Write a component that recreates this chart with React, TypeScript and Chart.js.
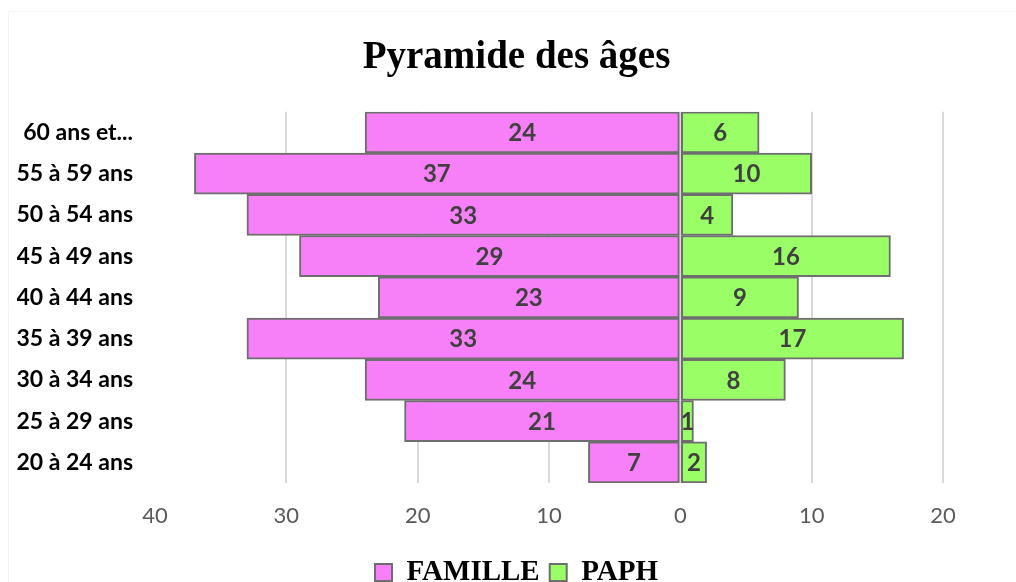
import React, { useEffect, useRef } from "react";
import { Chart, registerables } from "chart.js";

Chart.register(...registerables);

const categories = [
  "60 ans et...",
  "55 à 59 ans",
  "50 à 54 ans",
  "45 à 49 ans",
  "40 à 44 ans",
  "35 à 39 ans",
  "30 à 34 ans",
  "25 à 29 ans",
  "20 à 24 ans",
];
const familleValues = [24, 37, 33, 29, 23, 33, 24, 21, 7];
const paphValues = [6, 10, 4, 16, 9, 17, 8, 1, 2];
const xTickValues = [-40, -30, -20, -10, 0, 10, 20];

const valueLabelPlugin = {
  id: "valueLabels",
  afterDatasetsDraw(chart: any) {
    const ctx = chart.ctx;
    ctx.save();
    ctx.font = "bold 24px Lato";
    ctx.fillStyle = "#404040";
    ctx.textAlign = "center";
    ctx.textBaseline = "middle";
    chart.data.datasets.forEach((ds: any, di: number) => {
      const meta = chart.getDatasetMeta(di);
      meta.data.forEach((el: any, i: number) => {
        const v = Math.abs(ds.data[i]);
        const cx = (el.x + el.base) / 2;
        ctx.fillText(String(v), cx, el.y + 1);
      });
    });
    ctx.restore();
  },
};

const framePlugin = {
  id: "frame",
  beforeDraw(chart: any) {
    const ctx = chart.ctx;
    ctx.save();
    ctx.strokeStyle = "#F3F3F3";
    ctx.lineWidth = 1;
    ctx.beginPath();
    ctx.moveTo(8.5, chart.height);
    ctx.lineTo(8.5, 11.5);
    ctx.lineTo(chart.width, 11.5);
    ctx.stroke();
    ctx.restore();
  },
};

export default function App() {
  const ref = useRef<HTMLCanvasElement>(null);
  useEffect(() => {
    document.body.style.margin = "0";
    const chart = new Chart(ref.current!, {
      type: "bar",
      data: {
        labels: categories,
        datasets: [
          {
            label: "FAMILLE",
            data: familleValues.map((v) => -v),
            backgroundColor: "#F77FF7",
            borderColor: "#6E6E6E",
            borderWidth: 2,
            borderSkipped: false,
            categoryPercentage: 1,
            barPercentage: 1,
          },
          {
            label: "PAPH",
            data: paphValues,
            backgroundColor: "#9AFF66",
            borderColor: "#6E6E6E",
            borderWidth: 2,
            borderSkipped: false,
            categoryPercentage: 1,
            barPercentage: 1,
          },
        ],
      },
      options: {
        indexAxis: "y",
        animation: false,
        responsive: false,
        layout: { padding: { left: 17, right: 0, top: 0, bottom: 3 } },
        plugins: {
          title: {
            display: true,
            text: "Pyramide des âges",
            color: "#000000",
            font: { family: "Liberation Serif", size: 39, weight: "bold", lineHeight: 1.2 },
            padding: { top: 35, bottom: 30 },
          },
          legend: {
            position: "bottom",
            labels: {
              color: "#000000",
              font: { family: "Liberation Serif", size: 29, weight: "bold" },
              boxWidth: 17,
              boxHeight: 17,
              padding: 10,
            },
          },
          tooltip: { enabled: false },
        },
        scales: {
          x: {
            stacked: true,
            min: -40,
            max: 20,
            afterBuildTicks(scale: any) {
              scale.ticks = xTickValues.map((v) => ({ value: v }));
            },
            afterFit(scale: any) {
              scale.height = 65;
            },
            ticks: {
              callback: (v: any) => String(Math.abs(Number(v))),
              color: "#595959",
              font: { family: "Lato", size: 22 },
              padding: 20,
              maxRotation: 0,
            },
            grid: {
              color: (c: any) => (c.tick && c.tick.value === -40 ? "rgba(0,0,0,0)" : "#D9D9D9"),
              lineWidth: 2,
              drawTicks: false,
            },
            border: { display: false },
          },
          y: {
            stacked: true,
            afterFit(scale: any) {
              scale.width = 138;
            },
            ticks: {
              color: "#000000",
              font: { family: "Lato", size: 23, weight: "bold" },
              padding: 22,
            },
            grid: { display: false, drawTicks: false },
            border: { display: false },
          },
          yRight: {
            type: "category",
            position: "right",
            display: true,
            afterFit(scale: any) {
              scale.width = 73;
            },
            ticks: { display: false },
            grid: { display: false, drawTicks: false },
            border: { display: false },
          },
        },
      },
      plugins: [framePlugin, valueLabelPlugin],
    });
    return () => chart.destroy();
  }, []);
  return (
    <div style={{ width: 1016, height: 582, overflow: "hidden", position: "relative", background: "#fff" }}>
      <canvas ref={ref} width={1016} height={600} style={{ display: "block" }} />
    </div>
  );
}
